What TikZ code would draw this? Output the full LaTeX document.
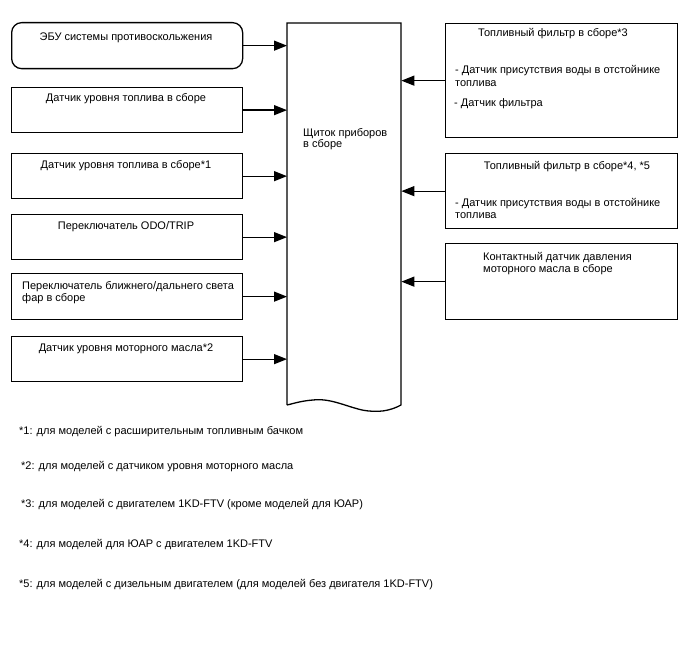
\documentclass[tikz,border=0pt]{standalone}
\usepackage{fontspec}
\setmainfont{Liberation Sans}
\usetikzlibrary{arrows.meta}
\begin{document}
\begin{tikzpicture}[x=1pt,y=-1pt,
  box/.style={draw,line width=1.3pt,inner sep=0pt,anchor=north west},
  txt/.style={inner sep=0pt,font=\fontsize{11}{13}\selectfont},
  arr/.style={line width=1.3pt,-{Triangle[length=13pt,width=10pt]}}]
\useasboundingbox (0,0) rectangle (688,658);
% left boxes
\node[box,rounded corners=10pt,minimum width=231pt,minimum height=46pt] (b1) at (11,22) {};
\node[box,minimum width=231pt,minimum height=45pt] (b2) at (11,87) {};
\node[box,minimum width=231pt,minimum height=45pt] (b3) at (11,153) {};
\node[box,minimum width=231pt,minimum height=45pt] (b4) at (11,214) {};
\node[box,minimum width=231pt,minimum height=46pt] (b5) at (11,273) {};
\node[box,minimum width=231pt,minimum height=45pt] (b6) at (11,336) {};
\node[txt,anchor=base] (t1) at (126,41) {ЭБУ системы противоскольжения};
\node[txt,anchor=base] (t2) at (126,102) {Датчик уровня топлива в сборе};
\node[txt,anchor=base] (t3) at (126,168) {Датчик уровня топлива в сборе*1};
\node[txt,anchor=base] (t4) at (126,229) {Переключатель ODO/TRIP};
\node[txt,anchor=base west] (t5a) at (22,289) {Переключатель ближнего/дальнего света};
\node[txt,anchor=base west] (t5b) at (22,301) {фар в сборе};
\node[txt,anchor=base] (t6) at (126,351) {Датчик уровня моторного масла*2};
% central panel
\node[inner sep=0pt,minimum width=114pt,minimum height=382pt,anchor=north west] (pan) at (287,23) {};
\draw[line width=1.3pt] (287,405) -- (287,23) -- (401,23) -- (401,405)
  .. controls (390,411) and (378,413) .. (362,410)
  .. controls (345,406) and (330,398) .. (313,400)
  .. controls (300,401) and (292,404) .. (287,405);
\node[txt,anchor=base west] (pa) at (303,136) {Щиток приборов};
\node[txt,anchor=base west] (pb) at (303,148) {в сборе};
% right boxes
\node[box,minimum width=232pt,minimum height=114pt] (r1) at (445,23) {};
\node[box,minimum width=232pt,minimum height=75pt] (r2) at (445,153) {};
\node[box,minimum width=232pt,minimum height=76pt] (r3) at (445,243) {};
\node[txt,anchor=base] (r1t) at (553,37) {Топливный фильтр в сборе*3};
\node[txt,anchor=base west] (r1a) at (455,74) {- Датчик присутствия воды в отстойнике};
\node[txt,anchor=base west] (r1b) at (455,87) {топлива};
\node[txt,anchor=base west] (r1c) at (454,107) {- Датчик фильтра};
\node[txt,anchor=base] (r2t) at (567,169) {Топливный фильтр в сборе*4, *5};
\node[txt,anchor=base west] (r2a) at (455,206) {- Датчик присутствия воды в отстойнике};
\node[txt,anchor=base west] (r2b) at (455,218) {топлива};
\node[txt,anchor=base west] (r3a) at (483,260) {Контактный датчик давления};
\node[txt,anchor=base west] (r3b) at (483,272) {моторного масла в сборе};
% arrows
\foreach \b in {b1,b2,b3,b4,b5,b6} \draw[arr] (\b.east) -- (\b.east -| pan.west);
\foreach \b in {r1,r2,r3} \draw[arr] (\b.west) -- (\b.west -| pan.east);
% footnotes
\node[txt,anchor=base west] (f1) at (19,434) {*1: для моделей с расширительным топливным бачком};
\node[txt,anchor=base west] (f2) at (21,469) {*2: для моделей с датчиком уровня моторного масла};
\node[txt,anchor=base west] (f3) at (21,507) {*3: для моделей с двигателем 1KD-FTV (кроме моделей для ЮАР)};
\node[txt,anchor=base west] (f4) at (19,547) {*4: для моделей для ЮАР с двигателем 1KD-FTV};
\node[txt,anchor=base west] (f5) at (19,587) {*5: для моделей с дизельным двигателем (для моделей без двигателя 1KD-FTV)};
\end{tikzpicture}
\end{document}
